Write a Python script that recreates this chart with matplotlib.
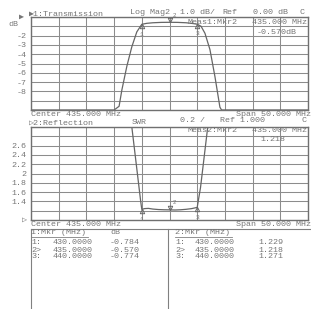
import matplotlib
matplotlib.use('Agg')
import matplotlib.pyplot as plt

W, H = 311, 309
FONT = ['Liberation Mono', 'DejaVu Sans Mono']
TXT = '#767676'
GRID = '#8c8c8c'
TRACE = '#666666'
FS = 6.0

# transmission trace (MHz, dB)
t_freq = [410, 425.0, 425.9, 426.4, 427.3, 428.2, 429.1, 430.0, 430.9, 432.0,
          433.5, 435.0, 436.5, 438.0, 439.2, 440.0, 440.7, 441.4, 442.3,
          443.2, 444.1, 444.4, 460]
t_db = [-10, -10, -9.6, -7.85, -5.3, -3.2, -1.6, -0.784, -0.68, -0.62,
        -0.58, -0.570, -0.58, -0.62, -0.70, -0.774, -1.0, -1.75, -3.5,
        -6.4, -9.7, -10, -10]

# reflection trace (MHz, SWR)
r_freq = [410, 428.2, 428.8, 429.4, 429.8, 430.0, 430.5, 431.2, 432.0, 433.0,
          434.0, 435.0, 436.0, 437.0, 438.0, 439.0, 440.0, 440.6, 441.2,
          441.9, 460]
r_swr = [3.0, 3.0, 2.4, 1.8, 1.4, 1.229, 1.245, 1.25, 1.235, 1.225,
         1.22, 1.218, 1.215, 1.22, 1.23, 1.245, 1.271, 1.7, 2.3, 3.0, 3.0]

mkr_no = ['1', '2', '3']
mkr_freq = [430.0, 435.0, 440.0]
mkr_db = [-0.784, -0.570, -0.774]
mkr_swr = [1.229, 1.218, 1.271]

db_ticks = [0, -1, -2, -3, -4, -5, -6, -7, -8, -9, -10]
db_labels = ['', '', '-2', '-3', '-4', '-5', '-6', '-7', '-8', '', '']
swr_ticks = [1.0, 1.2, 1.4, 1.6, 1.8, 2.0, 2.2, 2.4, 2.6, 2.8, 3.0]
swr_labels = ['', '', '1.4', '1.6', '1.8', '2', '2.2', '2.4', '2.6', '', '']
f_ticks = [410 + 5 * i for i in range(11)]


def px(x, y):
    return x / W, 1 - y / H


def txt(x, y, s, ha='left'):
    fx, fy = px(x, y)
    fig.text(fx, fy, s, ha=ha, va='center', fontsize=FS, color=TXT,
             family=FONT)


def hline(x0, x1, y, lw=0.8, c='#808080'):
    fig.add_artist(plt.Line2D([x0 / W, x1 / W], [1 - y / H, 1 - y / H],
                              color=c, lw=lw))


def vline(x, y0, y1, lw=0.8, c='#808080'):
    fig.add_artist(plt.Line2D([x / W, x / W], [1 - y0 / H, 1 - y1 / H],
                              color=c, lw=lw))


fig = plt.figure(figsize=(W / 100, H / 100), dpi=100)
fig.patch.set_facecolor('white')

gx0, gx1 = 31, 308
ax1 = fig.add_axes([gx0 / W, 1 - 110 / H, (gx1 - gx0) / W, 93 / H])
ax2 = fig.add_axes([gx0 / W, 1 - 220 / H, (gx1 - gx0) / W, 93 / H])

for ax, ticks, labels in [(ax1, db_ticks, db_labels),
                          (ax2, swr_ticks, swr_labels)]:
    ax.set_xlim(410, 460)
    ax.set_xticks(f_ticks)
    ax.set_xticklabels([])
    ax.set_yticks(ticks)
    ax.set_yticklabels(labels, fontsize=FS, color=TXT, family=FONT)
    ax.tick_params(length=0, pad=3)
    ax.grid(True, color=GRID, lw=0.75)
    for sp in ax.spines.values():
        sp.set_color('#707070')
        sp.set_linewidth(1.0)

ax1.set_ylim(-10, 0)
ax2.set_ylim(1.0, 3.0)

ax1.plot(t_freq, t_db, color=TRACE, lw=0.9)
ax2.plot(r_freq, r_swr, color=TRACE, lw=0.9)

# markers
for ax, vals, dy in [(ax1, mkr_db, 0.35), (ax2, mkr_swr, 0.07)]:
    for i in range(3):
        f, v = mkr_freq[i], vals[i]
        if i == 1:
            ax.plot(f, v + dy * 0.6, marker='v', ms=3.2, color=TRACE,
                    mec=TRACE, mfc='none', mew=0.7)
            ax.annotate(mkr_no[i], (f, v), xytext=(3.5, 5), textcoords='offset points',
                        ha='center', va='center', fontsize=4.2, color=TXT,
                        family=FONT)
        else:
            ax.plot(f, v - dy * 0.6, marker='^', ms=3.2, color=TRACE,
                    mec=TRACE, mfc='none', mew=0.7)
            ax.annotate(mkr_no[i], (f, v), xytext=(0, -7), textcoords='offset points',
                        ha='center', va='center', fontsize=4.6, color=TXT,
                        family=FONT)

# channel 1 annotations
txt(29, 14, '\u25b61:Transmission')
txt(130, 13, 'Log Mag2')
txt(180, 13, '1.0 dB/')
txt(222, 13, 'Ref')
txt(253, 13, '0.00 dB')
txt(299, 13, 'C')
txt(24, 17, '\u25b6', ha='right')
txt(8, 24, 'dB')
txt(188, 23, 'Meas1:Mkr2')
txt(252, 23, '435.000 MHz')
txt(297, 32, '-0.570dB', ha='right')
txt(31, 115, 'Center 435.000 MHz')
txt(311, 115, 'Span 50.000 MHz', ha='right')

# channel 2 annotations
txt(29, 123, '\u25b72:Reflection')
txt(132, 123, 'SWR')
txt(180, 121, '0.2 /')
txt(220, 121, 'Ref 1.000')
txt(301, 121, 'C')
txt(188, 131, 'Meas2:Mkr2')
txt(252, 131, '435.000 MHz')
txt(285, 140, '1.218', ha='right')
txt(27, 220, '\u25b7', ha='right')
txt(31, 225, 'Center 435.000 MHz')
txt(311, 225, 'Span 50.000 MHz', ha='right')

# marker table
hline(31, 311, 229)
vline(31, 229, 309)
vline(168, 229, 309)
txt(31, 233, '1:Mkr (MHz)')
txt(110, 233, 'dB')
hline(31, 88, 237, lw=0.6)
txt(175, 233, '2:Mkr (MHz)')
hline(175, 232, 237, lw=0.6)
prefix = ['1:', '2>', '3:']
for i in range(3):
    y = 243 + 7 * i
    txt(31, y, prefix[i])
    txt(53, y, '%.4f' % mkr_freq[i])
    txt(110, y, '%.3f' % mkr_db[i])
    txt(175, y, prefix[i])
    txt(195, y, '%.4f' % mkr_freq[i])
    txt(258, y, '%.3f' % mkr_swr[i])

fig.savefig('out.png', dpi=100)
